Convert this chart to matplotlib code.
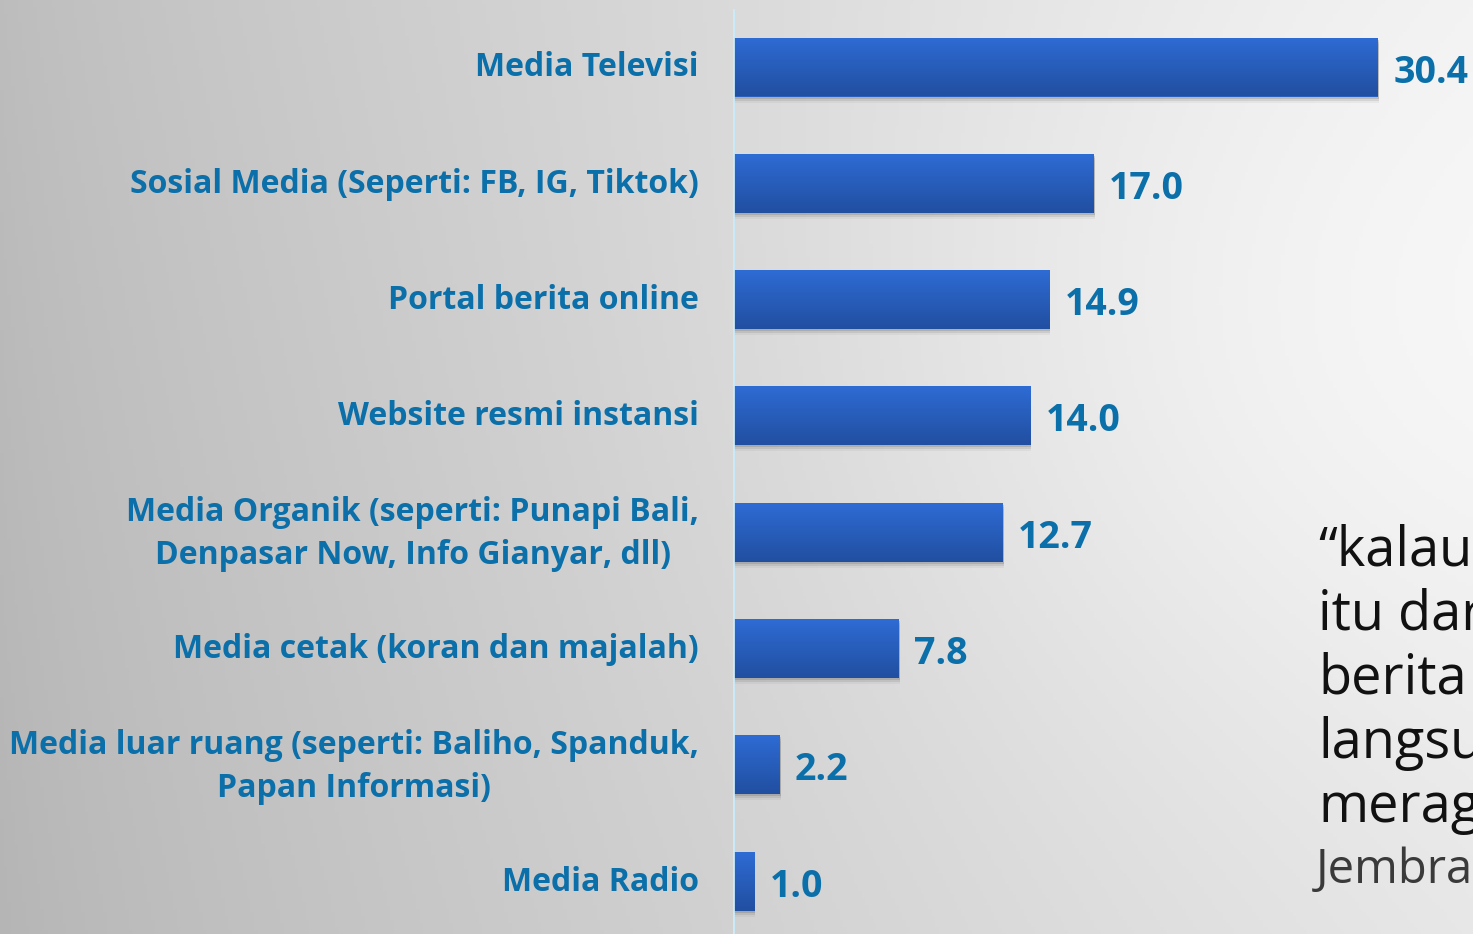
# -*- coding: utf-8 -*-
"""
Sumber informasi - horizontal bar chart
"""
import numpy as np
import matplotlib
matplotlib.use('Agg')
import matplotlib.pyplot as plt
from matplotlib.transforms import ScaledTranslation

plt.rcParams['font.family'] = ['Open Sans', 'DejaVu Sans']

categories = ['Media Televisi',
              'Sosial Media (Seperti: FB, IG, Tiktok)',
              'Portal berita online',
              'Website resmi instansi',
              'Media Organik (seperti: Punapi Bali,\nDenpasar Now, Info Gianyar, dll)',
              'Media cetak (koran dan majalah)',
              'Media luar ruang (seperti: Baliho, Spanduk,\nPapan Informasi)',
              'Media Radio']
values = [30.4, 17.0, 14.9, 14.0, 12.7, 7.8, 2.2, 1.0]
value_labels = ['30.4', '17.0', '14.9', '14.0', '12.7', '7.8', '2.2', '1.0']
quote_lines = ['\u201ckalau', 'itu dar', 'berita', 'langsu', 'merag']
quote_source = 'Jembra'

W, H = 1473, 934
fig = plt.figure(figsize=(W/100, H/100), dpi=100)

# background gradient (grey on the left, light towards the right)
bg = fig.add_axes([0, 0, 1, 1], zorder=0)
xx, yy = np.meshgrid(np.linspace(0, 1, 400), np.linspace(0, 1, 260))
base = 0.74 + 0.19*xx**0.8 - 0.03*yy
glow = 0.05*np.exp(-(((xx-0.9)/0.35)**2 + ((yy-0.38)/0.45)**2))
g = np.clip(base + glow, 0, 1)
bg.imshow(np.dstack([g, g, g]), aspect='auto', extent=[0, 1, 1, 0])
bg.set_axis_off()

x_axis = 733
ax = fig.add_axes([x_axis/W, 0, 1-x_axis/W, 1], zorder=1)
ax.patch.set_alpha(0)

px_per_unit = (1378-x_axis)/30.4
step = 116.3
y = np.arange(len(values))
h = 59/step

# soft shadow under each bar
for k, a in zip([2, 4, 6], [0.22, 0.14, 0.07]):
    ax.barh(y + k/step, values, height=h, left=0.05, color='#606060', alpha=a,
            lw=0, zorder=1)
bars = ax.barh(y, values, height=h, color='#2a5fc0', lw=0, zorder=2)

grad = np.linspace(0, 1, 64)[:, None]
c_top = np.array([0.18, 0.42, 0.83])
c_bot = np.array([0.13, 0.31, 0.63])
grad_rgb = c_top[None, None, :]*(1-grad[..., None]) + c_bot[None, None, :]*grad[..., None]
for b in bars:
    x0, y0 = b.get_x(), b.get_y()
    im = ax.imshow(grad_rgb, aspect='auto', zorder=3,
                   extent=[x0, x0+b.get_width(), y0+b.get_height(), y0])
    im.set_clip_path(b)

for i, v in enumerate(values):
    ax.annotate(value_labels[i], (v, i), xytext=(11, -4), textcoords='offset points',
                ha='left', va='center', fontsize=27, fontweight='bold', color='#0b6fa9')

ax.set_xlim(0, (W-x_axis)/px_per_unit)
ax.set_ylim((H-67)/step, -67/step)
ax.axvline(0, ymin=0, ymax=1-10/H, color='#c9ecfb', lw=2, zorder=4)

ax.set_yticks(y)
ax.set_yticklabels(categories, fontsize=23, fontweight='bold', color='#0b6fa9',
                   multialignment='center', linespacing=1.40)
ax.tick_params(axis='y', length=0, pad=24.5)
ax.set_xticks([])
for s in ax.spines.values():
    s.set_visible(False)

# nudge labels up a little (more for two-line labels)
for lbl in ax.get_yticklabels():
    dy = 7 if '\n' in lbl.get_text() else 3
    lbl.set_transform(lbl.get_transform() + ScaledTranslation(0, dy/100, fig.dpi_scale_trans))

# quote on the right, cut off by the figure edge
for k, line in enumerate(quote_lines):
    fig.text(1318/W, 1-(565+64.3*k)/H, line, fontsize=39, color='#111111',
             ha='left', va='baseline')
fig.text(1316/W, 1-883/H, quote_source, fontsize=34, color='#3a3a3a',
         ha='left', va='baseline')

plt.savefig('out.png', dpi=100)
